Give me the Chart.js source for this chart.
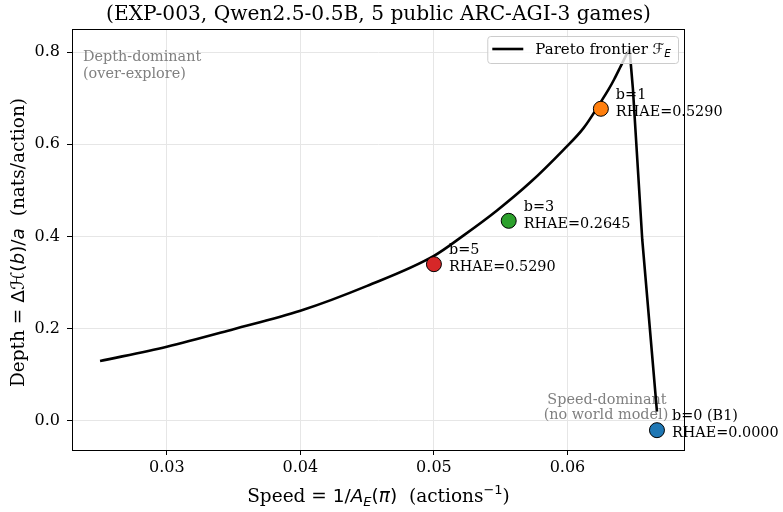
<!DOCTYPE html>
<html><head><meta charset="utf-8">
<script src="https://cdn.jsdelivr.net/npm/chart.js@4.4.1/dist/chart.umd.min.js"></script>
<style>html,body{margin:0;padding:0;background:#fff}canvas{display:block}</style>
</head><body>
<canvas id="c" width="783" height="512"></canvas>
<script>
// ---- data ----
// Pareto frontier: rising branch up to the peak, then the falling branch
const frontierSpeed = [0.0250, 0.0300, 0.0350, 0.0400, 0.0450, 0.0500, 0.0522, 0.0547, 0.0572, 0.0597, 0.0612, 0.0625, 0.0631, 0.0635, 0.0640, 0.0645, 0.06465, 0.0649, 0.0656, 0.0667];
const frontierDepth = [0.130, 0.161, 0.199, 0.239, 0.293, 0.358, 0.402, 0.456, 0.517, 0.588, 0.635, 0.692, 0.720, 0.741, 0.770, 0.799, 0.806, 0.720, 0.393, 0.020];
const budgetLabels = ['b=0 (B1)', 'b=1', 'b=3', 'b=5'];
const budgetSpeed = [0.0667, 0.0625, 0.0556, 0.0500];
const budgetDepth = [-0.020, 0.677, 0.434, 0.340];
const budgetRHAE = ['0.0000', '0.5290', '0.2645', '0.5290'];
const xTicks = [0.03, 0.04, 0.05, 0.06];
const xTickLabels = ['0.03', '0.04', '0.05', '0.06'];
const yTicks = [0.0, 0.2, 0.4, 0.6, 0.8];
const yTickLabels = ['0.0', '0.2', '0.4', '0.6', '0.8'];
const titleText = '(EXP-003, Qwen2.5-0.5B, 5 public ARC-AGI-3 games)';
const legendLabel = 'Pareto frontier ';

// ---- styles ----
const pointColors = ['#1f77b4', '#ff7f0e', '#2ca02c', '#d62728'];
const SERIF = '"DejaVu Serif", serif';
const SANS = '"DejaVu Sans", sans-serif';
const LINE_W = 2.6;

// split frontier at its highest point (rising branch smooth, falling branch straight)
let peakIdx = 0;
frontierDepth.forEach((v, i) => { if (v > frontierDepth[peakIdx]) peakIdx = i; });
const pts = frontierSpeed.map((x, i) => ({ x, y: frontierDepth[i] }));
const risingPts = pts.slice(0, peakIdx + 1);
const fallingPts = pts.slice(peakIdx);

function segW(ctx, segs) { let w = 0; for (const s of segs) { ctx.font = s.f; w += ctx.measureText(s.t).width; } return w; }
function drawRich(ctx, segs, x, y, align) {
  const w = segW(ctx, segs);
  let cx = align === 'center' ? x - w / 2 : (align === 'right' ? x - w : x);
  ctx.textAlign = 'left';
  ctx.textBaseline = 'alphabetic';
  for (const s of segs) {
    ctx.font = s.f;
    ctx.fillText(s.t, cx, y + (s.dy || 0));
    cx += ctx.measureText(s.t).width;
  }
  return w;
}

const LS = 18.5, LSS = 13;
const xTitle = [
  { t: 'Speed = ', f: LS + 'px ' + SERIF },
  { t: '1/', f: LS + 'px ' + SANS },
  { t: 'A', f: 'italic ' + LS + 'px ' + SANS },
  { t: 'E', f: 'italic ' + LSS + 'px ' + SANS, dy: 3.5 },
  { t: '(', f: LS + 'px ' + SANS },
  { t: 'π', f: 'italic ' + LS + 'px ' + SANS },
  { t: ')', f: LS + 'px ' + SANS },
  { t: '  (actions', f: LS + 'px ' + SERIF },
  { t: '−1', f: LSS + 'px ' + SANS, dy: -8 },
  { t: ')', f: LS + 'px ' + SERIF }
];
const yTitle = [
  { t: 'Depth = ', f: LS + 'px ' + SERIF },
  { t: 'Δ', f: LS + 'px ' + SANS },
  { t: 'ℋ', f: 'italic ' + LS + 'px ' + SANS },
  { t: '(', f: LS + 'px ' + SANS },
  { t: 'b', f: 'italic ' + LS + 'px ' + SANS },
  { t: ')/', f: LS + 'px ' + SANS },
  { t: 'a', f: 'italic ' + LS + 'px ' + SANS },
  { t: '  (nats/action)', f: LS + 'px ' + SERIF }
];

const AF = 14.4, LF = 15;
const decor = {
  id: 'decor',
  beforeDatasetsDraw(chart) {
    const { ctx, chartArea: a } = chart;
    ctx.save();
    ctx.fillStyle = '#808080';
    ctx.font = AF + 'px ' + SERIF;
    ctx.textAlign = 'left';
    ctx.textBaseline = 'alphabetic';
    ctx.fillText('Depth-dominant', a.left + 11, a.top + 32);
    ctx.fillText('(over-explore)', a.left + 11, a.top + 49);
    const xs = chart.scales.x, ys = chart.scales.y;
    const cx = xs.getPixelForValue(budgetSpeed[0]) - 51;
    const by = ys.getPixelForValue(budgetDepth[0]);
    ctx.textAlign = 'center';
    ctx.fillText('Speed-dominant', cx + 1, by - 26);
    ctx.fillText('(no world model)', cx, by - 11);
    ctx.restore();
  },
  afterDatasetsDraw(chart) {
    const { ctx, chartArea: a } = chart;
    const xs = chart.scales.x, ys = chart.scales.y;
    ctx.save();
    ctx.fillStyle = '#000';
    ctx.font = AF + 'px ' + SERIF;
    ctx.textAlign = 'left';
    ctx.textBaseline = 'alphabetic';
    for (let i = 0; i < budgetLabels.length; i++) {
      const px = xs.getPixelForValue(budgetSpeed[i]);
      const py = ys.getPixelForValue(budgetDepth[i]);
      ctx.fillText(budgetLabels[i], px + 15, py - 10);
      ctx.fillText('RHAE=' + budgetRHAE[i], px + 15, py + 7);
    }
    // legend
    const legSegs = [
      { t: legendLabel, f: LF + 'px ' + SERIF },
      { t: 'ℱ', f: 'italic ' + LF + 'px ' + SANS },
      { t: 'E', f: 'italic 10.5px ' + SANS, dy: 3 }
    ];
    const tw = segW(ctx, legSegs);
    const right = a.right - 7, top = a.top + 7, h = 27;
    const w = 5 + 31 + 12 + tw + 7;
    const left = right - w;
    ctx.beginPath();
    ctx.roundRect(left + 0.5, top + 0.5, w, h, 3);
    ctx.fillStyle = 'rgba(255,255,255,0.8)';
    ctx.fill();
    ctx.strokeStyle = '#cccccc';
    ctx.lineWidth = 1;
    ctx.stroke();
    ctx.beginPath();
    ctx.moveTo(left + 5, top + 13);
    ctx.lineTo(left + 36, top + 13);
    ctx.strokeStyle = '#000';
    ctx.lineWidth = LINE_W;
    ctx.stroke();
    ctx.fillStyle = '#000';
    drawRich(ctx, legSegs, left + 48, top + 18, 'left');
    ctx.restore();
  },
  afterDraw(chart) {
    const { ctx, chartArea: a } = chart;
    ctx.save();
    ctx.strokeStyle = '#000';
    ctx.lineWidth = 1;
    ctx.strokeRect(Math.round(a.left) + 0.5, Math.round(a.top) + 0.5, Math.round(a.right - a.left) - 1, Math.round(a.bottom - a.top));
    ctx.fillStyle = '#000';
    ctx.font = '20.2px ' + SERIF;
    ctx.textAlign = 'center';
    ctx.textBaseline = 'alphabetic';
    const mid = (a.left + a.right) / 2;
    ctx.fillText(titleText, mid, 20);
    drawRich(ctx, xTitle, mid, 502, 'center');
    ctx.save();
    ctx.translate(24, (a.top + a.bottom) / 2 + 3);
    ctx.rotate(-Math.PI / 2);
    drawRich(ctx, yTitle, 0, 0, 'center');
    ctx.restore();
    ctx.restore();
  }
};

new Chart(document.getElementById('c'), {
  type: 'scatter',
  data: {
    datasets: [
      {
        label: 'Pareto frontier',
        data: risingPts,
        showLine: true,
        borderColor: '#000',
        borderWidth: LINE_W,
        pointRadius: 0,
        cubicInterpolationMode: 'monotone',
        order: 3
      },
      {
        label: 'Pareto frontier (falling)',
        data: fallingPts,
        showLine: true,
        borderColor: '#000',
        borderWidth: LINE_W,
        pointRadius: 0,
        tension: 0,
        order: 2
      },
      {
        label: 'budgets',
        data: budgetSpeed.map((x, i) => ({ x, y: budgetDepth[i] })),
        backgroundColor: pointColors,
        borderColor: '#000',
        borderWidth: 1,
        pointRadius: 7.5,
        order: 1
      }
    ]
  },
  options: {
    responsive: false,
    animation: false,
    devicePixelRatio: 1,
    layout: { padding: { top: 29, right: 98, left: 0, bottom: 0 } },
    plugins: { legend: { display: false }, tooltip: { enabled: false } },
    scales: {
      x: {
        type: 'linear', min: 0.0229, max: 0.0688,
        afterFit(s) { s.height = 62; },
        afterBuildTicks(s) { s.ticks = xTicks.map(v => ({ value: v })); },
        border: { display: false },
        grid: { color: '#e6e6e6', lineWidth: 1, tickLength: 5, tickColor: '#000', drawTicks: true },
        ticks: { padding: 3, color: '#000', font: { family: SERIF, size: 16 }, maxRotation: 0, callback: (v, i) => xTickLabels[i] }
      },
      y: {
        type: 'linear', min: -0.063, max: 0.85,
        afterFit(s) { s.width = 72; },
        afterBuildTicks(s) { s.ticks = yTicks.map(v => ({ value: v })); },
        border: { display: false },
        grid: { color: '#e6e6e6', lineWidth: 1, tickLength: 5, tickColor: '#000', drawTicks: true },
        ticks: { padding: 7, color: '#000', font: { family: SERIF, size: 16 }, callback: (v, i) => yTickLabels[i] }
      }
    }
  },
  plugins: [decor]
});
</script></body></html>
